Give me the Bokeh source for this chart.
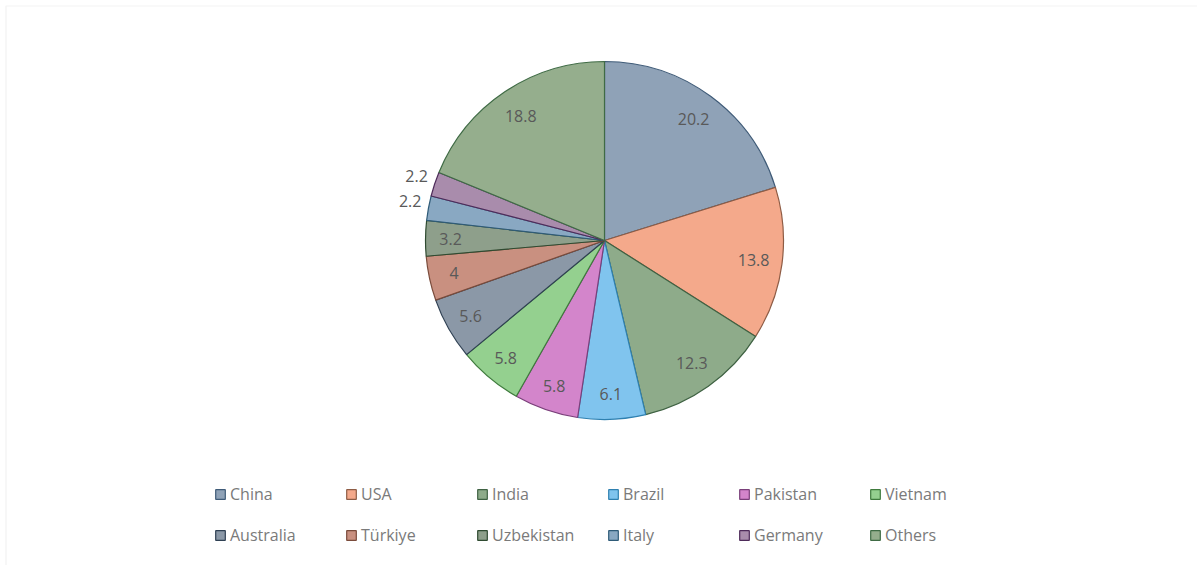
import math
from bokeh.plotting import figure
from bokeh.models import ColumnDataSource, Legend, LegendItem, Range1d, BoxAnnotation
from bokeh.core.properties import value
from bokeh.embed import file_html
from bokeh.resources import INLINE

countries = ["China", "USA", "India", "Brazil", "Pakistan", "Vietnam",
             "Australia", "Türkiye", "Uzbekistan", "Italy", "Germany", "Others"]
shares = [20.2, 13.8, 12.3, 6.1, 5.8, 5.8, 5.6, 4, 3.2, 2.2, 2.2, 18.8]
label_texts = ["20.2", "13.8", "12.3", "6.1", "5.8", "5.8", "5.6", "4", "3.2", "2.2", "2.2", "18.8"]

fills = ["#8fa2b7", "#f4a98b", "#8eab8a", "#80c4ee", "#d385cb", "#94d08f",
         "#8b98a7", "#c99080", "#8e9f8b", "#89a8c2", "#a98cac", "#95ae8d"]
edges = ["#3f5b78", "#8e5c45", "#3f6243", "#2f80b0", "#7a3f7a", "#3f7b3d",
         "#2f4053", "#7a4b3b", "#2f4b31", "#2f5b78", "#4e2b5a", "#3f6b45"]

W, H = 1197, 565
cx_px, cy_px = 604, 240
R = 179

total = sum(shares)
starts, ends, mids = [], [], []
acc = 0.0
for s in shares:
    a0 = math.pi / 2 - 2 * math.pi * acc / total
    acc += s
    a1 = math.pi / 2 - 2 * math.pi * acc / total
    starts.append(a1)
    ends.append(a0)
    mids.append((a0 + a1) / 2)

src = ColumnDataSource(dict(country=countries, share=shares, start=starts, end=ends,
                            fill=fills, edge=edges))

p = figure(width=W, height=H, output_backend="svg", toolbar_location=None,
           x_range=Range1d(-cx_px, W - cx_px), y_range=Range1d(-(H - cy_px), cy_px),
           min_border=0, background_fill_color="white", border_fill_color="white",
           outline_line_color=None)
p.axis.visible = False
p.grid.visible = False

# chart-area border (top and left edges visible)
p.add_layout(BoxAnnotation(left=5.5 - cx_px, top=cy_px - 5.5, right=W, bottom=-H,
                           fill_color=None, line_color="#d4d4d4", line_width=1.2))

r = p.wedge(x=0, y=0, radius=R, start_angle="start", end_angle="end",
            fill_color="fill", line_color="edge", line_width=1.2, source=src)

# labels
inx, iny, inl = [], [], []
outx, outy, outl = [], [], []
for t, s, m in zip(label_texts, shares, mids):
    if s < 3:
        outx.append(1.04 * R * math.cos(m))
        outy.append(1.04 * R * math.sin(m))
        outl.append(t)
    else:
        f = 0.84 if s > 7 else 0.86
        inx.append(f * R * math.cos(m))
        iny.append(f * R * math.sin(m))
        inl.append(t)

p.text(x=inx, y=iny, text=inl, text_align="center", text_baseline="middle",
       text_font=value("Open Sans"), text_font_size="16px", text_color="#595959")
p.text(x=outx, y=outy, text=outl, text_align="right", text_baseline="bottom",
       text_font=value("Open Sans"), text_font_size="16px", text_color="#595959")

items = [LegendItem(label=c, renderers=[r], index=i) for i, c in enumerate(countries)]
legend = Legend(items=items, ncols=6, location=(214, 13), orientation="horizontal",
                glyph_width=12, glyph_height=12, label_standoff=4, label_width=109,
                label_height=35, spacing=6, padding=0, margin=0,
                border_line_color=None, background_fill_alpha=0,
                label_text_font="Open Sans", label_text_font_size="16px",
                label_text_color="#7a7a7a")
p.add_layout(legend, "center")

open("out.html", "w").write(file_html(p, INLINE))
